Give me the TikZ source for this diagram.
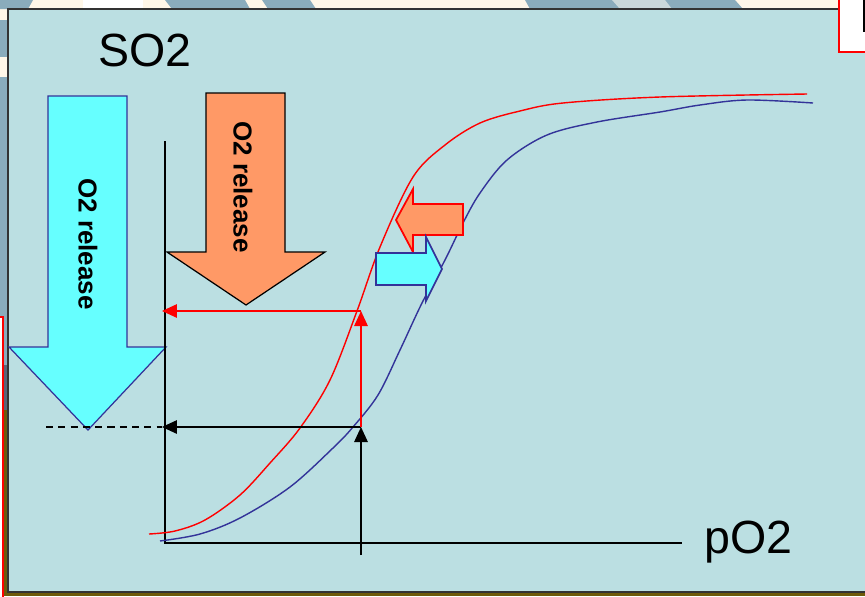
\documentclass[tikz,border=0pt]{standalone}
\usepackage{fontspec}
\setmainfont{Liberation Sans}
\usepackage{xcolor}
\usetikzlibrary{arrows.meta}
\definecolor{panelbg}{HTML}{BBDFE2}
\definecolor{cyanfill}{HTML}{66FFFF}
\definecolor{curveblue}{HTML}{333399}
\definecolor{orangefill}{HTML}{FF9966}
\definecolor{slidecream}{HTML}{FFF7E8}
\definecolor{slidegrey}{HTML}{8AACBC}
\definecolor{slidelight}{HTML}{CAD8DA}
\definecolor{slideolive}{HTML}{6E5A0A}
\definecolor{slideslate}{HTML}{5A6478}

\begin{document}
\begin{tikzpicture}[x=0.02cm, y=-0.02cm,
    axis/.style={black, line width=0.8pt},
    curve/.style={line width=0.8pt, smooth, tension=0.55},
    guide/.style={line width=0.8pt, -{Triangle[length=0.3cm,width=0.27cm]}},
    bigarrow/.style={line width=0.7pt, line join=miter},
    shiftarrow/.style={line width=1pt, line join=miter},
    lbl/.style={inner sep=0pt, font=\fontsize{26.5}{30}\selectfont},
    rel/.style={inner sep=0pt, rotate=-90, font=\fontsize{14.8}{17}\selectfont\bfseries}]
\useasboundingbox (0,0) rectangle (865,596);
\clip (0,0) rectangle (865,596);
% slide decoration round the panel
\fill[slidecream] (0,0) rectangle (865,596);
\fill[slidegrey] (0,0) -- (33,0) -- (28,9) -- (0,9) -- cycle;
\fill[white] (83,0) rectangle (143,9);
\fill[slidegrey] (165,0) -- (245,0) -- (250,9) -- (172,9) -- cycle;
\fill[slidegrey] (262,0) -- (310,0) -- (316,9) -- (268,9) -- cycle;
\fill[slidegrey] (525,0) -- (735,0) -- (743,9) -- (530,9) -- cycle;
\fill[slidelight] (612,0) -- (665,0) -- (672,9) -- (620,9) -- cycle;
\fill[slidegrey] (0,20) rectangle (8,57);
\fill[slidegrey] (0,77) rectangle (8,365);
\fill[slideslate] (0,365) rectangle (8,410);
\fill[slideolive] (0,410) rectangle (8,596);
\fill[slideolive] (0,592) rectangle (865,596);
% the panel
\filldraw[fill=panelbg, draw=black!80, line width=1pt] (8,9) rectangle (880,592);
\filldraw[fill=white, draw=red, line width=0.8pt] (-5,317) rectangle (3,600);
\filldraw[fill=white, draw=red, line width=1pt] (839,-5) rectangle (875,52);
\fill[black] (863,0) rectangle (866,32);
% big arrows: O2 release
\filldraw[bigarrow, fill=cyanfill, draw=curveblue] (48,96) -- (127,96) -- (127,347) -- (166,347) -- (88,430) -- (9,347) -- (48,347) -- cycle;
\filldraw[bigarrow, fill=orangefill, draw=black] (206,93) -- (285,93) -- (285,252) -- (325,252) -- (246,305) -- (167,252) -- (206,252) -- cycle;
\node[rel] (relcyan) at (88,244) {O2 release};
\node[rel] (relorange) at (243,187) {O2 release};
% axes
\draw[axis] (165,141) -- (165,543) -- (682,543);
\node[lbl, anchor=base west] (so2) at (98,66) {SO2};
\node[lbl, anchor=base west] (po2) at (704,553) {pO2};
% dissociation curves
\draw[curve, red] plot coordinates {(149,534) (175,531) (205,520) (240,495) (270,463) (300,428) (330,380) (357,311) (380,247) (413,177) (445,145) (480,123) (520,111) (563,103) (660,97) (807,94)};
\draw[curve, curveblue] plot coordinates {(160,541) (200,534) (240,518) (290,487) (333,448) (353,427) (378,395) (400,350) (422,303) (445,260) (463,223) (480,193) (507,160) (547,135) (597,122) (660,112) (700,105) (747,100) (813,103)};
% shift arrows
\filldraw[shiftarrow, fill=orangefill, draw=red] (396,220) -- (413,189) -- (413,204) -- (463,204) -- (463,235) -- (413,235) -- (413,252) -- cycle;
\filldraw[shiftarrow, fill=cyanfill, draw=curveblue] (442,269) -- (426,237) -- (426,253) -- (376,253) -- (376,285) -- (426,285) -- (426,301) -- cycle;
% read-off points
\coordinate (xfoot) at (361,555);
\coordinate (onblue) at (361,427);
\coordinate (onred) at (361,311);
\coordinate (yblue) at (162,427);
\coordinate (yred) at (162,311);
\coordinate (dashend) at (46,427);
% Black: read the blue curve
\draw[guide] (xfoot) -- (onblue);
\draw[guide] (onblue) -- (yblue);
\draw[black, line width=0.8pt, dash pattern=on 4pt off 3pt] (dashend) -- (yblue);
% Red: same pO2, read the red curve
\draw[guide, red] (onblue) -- (onred);
\draw[guide, red] (onred) -- (yred);
\end{tikzpicture}
\end{document}
